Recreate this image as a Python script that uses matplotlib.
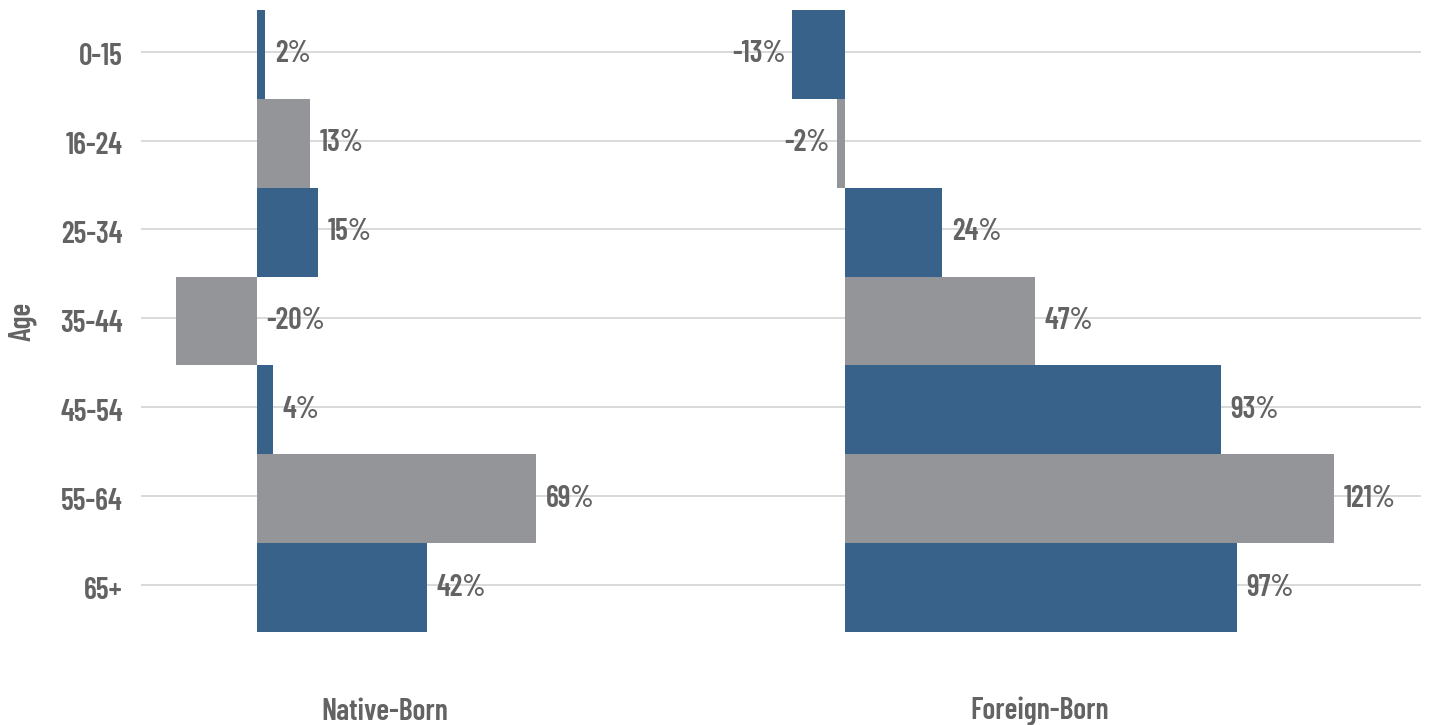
import numpy as np
import matplotlib.pyplot as plt

ages = ['0-15', '16-24', '25-34', '35-44', '45-54', '55-64', '65+']
native_born = [2, 13, 15, -20, 4, 69, 42]
foreign_born = [-13, -2, 24, 47, 93, 121, 97]

BLUE = '#39628a'
GRAY = '#949599'
TEXT = '#636363'
GRID = '#d9d9d9'

plt.rcParams['font.family'] = ['Barlow Condensed', 'DejaVu Sans']
plt.rcParams['font.weight'] = 600
FS = 21.5

W, H = 1429, 725
fig = plt.figure(figsize=(W / 100, H / 100), dpi=100)

y = np.arange(len(ages))
colors = [BLUE if i % 2 == 0 else GRAY for i in range(len(ages))]
px_per_pct = 4.04

top_px, bot_px = 10, 632


def box(x0, x1):
    return [x0 / W, 1 - bot_px / H, (x1 - x0) / W, (bot_px - top_px) / H]


# background axes carrying the horizontal gridlines across both panels
bg = fig.add_axes(box(141, 1421))
bg.set_ylim(len(ages) - 0.5, -0.5)
bg.set_xlim(0, 1)
for yy in y:
    bg.axhline(yy - 0.03, color=GRID, lw=1.4, zorder=0)
bg.set_yticks(y)
bg.set_yticklabels(ages, fontsize=FS, color=TEXT)
bg.tick_params(axis='y', length=0, pad=13)
bg.set_xticks([])
for s in bg.spines.values():
    s.set_visible(False)
fig.text(22 / W, 1 - 321 / H, 'Age', rotation=90, ha='center', va='center',
         fontsize=FS, color=TEXT)

panels = [
    ('Native-Born', native_born, 141, 629, 257, False),
    ('Foreign-Born', foreign_born, 659, 1421, 845, True),
]

for title, vals, x0, x1, zero, neg_outside in panels:
    ax = fig.add_axes(box(x0, x1))
    ax.patch.set_alpha(0)
    ax.set_xlim(-(zero - x0) / px_per_pct, (x1 - zero) / px_per_pct)
    ax.set_ylim(len(ages) - 0.5, -0.5)
    ax.barh(y, vals, height=1.0, color=colors, zorder=2)
    for yy, v in zip(y, vals):
        if v < 0 and neg_outside:
            ax.annotate(f'{v}%', (v, yy), xytext=(-5, 0), textcoords='offset points',
                        ha='right', va='center', fontsize=FS, color=TEXT, zorder=3)
        else:
            ax.annotate(f'{v}%', (max(v, 0), yy), xytext=(7, 0), textcoords='offset points',
                        ha='left', va='center', fontsize=FS, color=TEXT, zorder=3)
    ax.set_xticks([])
    ax.set_yticks([])
    for s in ax.spines.values():
        s.set_visible(False)
    fig.text((x0 + x1) / 2 / W, 1 - 712 / H, title, ha='center', va='center',
             fontsize=FS, color=TEXT)

fig.savefig('out.png', dpi=100)
